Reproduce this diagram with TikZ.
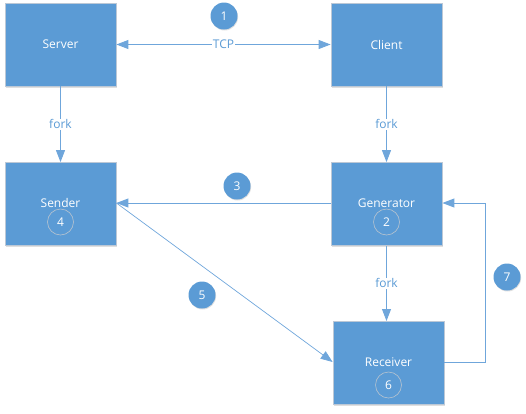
\documentclass[tikz,border=0pt]{standalone}
\usepackage{fontspec}
\setmainfont{Open Sans}
\usetikzlibrary{arrows.meta,shadows}
\definecolor{boxblue}{HTML}{5B9BD5}
\definecolor{boxedge}{HTML}{BCC8D6}
\definecolor{linkblue}{HTML}{6FA6DB}
\definecolor{ringgrey}{HTML}{B8C4D0}
\begin{document}
\begin{tikzpicture}[x=1pt,y=-1pt,
  proc/.style={draw=boxedge,line width=0.8pt,fill=boxblue,minimum width=111pt,minimum height=83pt,
    inner sep=0pt,drop shadow={shadow xshift=1pt,shadow yshift=-1.5pt,opacity=0.25}},
  proctext/.style={text=white,font=\fontsize{12}{14}\selectfont},
  ring/.style={draw=ringgrey,line width=0.6pt,circle,minimum size=26pt,inner sep=0pt,text=white,font=\fontsize{12}{14}\selectfont},
  badge/.style={circle,fill=boxblue,minimum size=27pt,inner sep=0pt,text=white,font=\fontsize{12}{14}\selectfont,
    drop shadow={shadow xshift=0.6pt,shadow yshift=-1pt,opacity=0.25}},
  tip/.style={Triangle[length=12pt,width=9pt]},
  link/.style={draw=linkblue,line width=0.9pt,-{Triangle[length=12pt,width=9pt]}},
  lbl/.style={fill=white,inner sep=1pt,text=boxblue,font=\fontsize{12}{14}\selectfont}]
\useasboundingbox (0,0) rectangle (526,413);

% process boxes
\node[proc] (server) at (60.5,44.5) {};
\node[proc] (client) at (386.5,44.5) {};
\node[proc] (sender) at (60.5,204) {};
\node[proc] (generator) at (386.5,204) {};
\node[proc] (receiver) at (388.5,363) {};

% box captions
\node[proctext] (serverT) at (60.5,44.5) {Server};
\node[proctext] (clientT) at (386.5,44.5) {Client};
\node[proctext] (senderT) at (60.5,203) {Sender};
\node[proctext] (generatorT) at (386.5,203) {Generator};
\node[proctext] (receiverT) at (388.5,362) {Receiver};

% step markers inside boxes
\node[ring] (r4) at (60.5,222) {4};
\node[ring] (r2) at (386.5,222) {2};
\node[ring] (r6) at (388.5,385) {6};

% connection points
\coordinate (sendR) at (sender.east |- senderT);
\coordinate (genR) at (generator.east |- generatorT);
\coordinate (genL) at (generator.west |- generatorT);
\coordinate (recvL) at (receiver.west |- receiverT);
\coordinate (recvR) at (receiver.east |- receiverT);
\coordinate (genB) at (generator.south);
\coordinate (recvT) at (386.5,321);
\coordinate (loopA) at (485,362);
\coordinate (loopB) at (485,203);

% connectors
\draw[link,{Triangle[length=12pt,width=9pt]}-{Triangle[length=12pt,width=9pt]}] (server.east) -- node[lbl] (tcp) {TCP} (client.west);
\draw[link] (server.south) -- node[lbl] (fork1) {fork} (sender.north);
\draw[link] (client.south) -- node[lbl] (fork2) {fork} (generator.north);
\draw[link] (genB) -- node[lbl] (fork3) {fork} (recvT);
\draw[link] (genL) -- (sendR);
\draw[link,line width=0.7pt] (sendR) -- (recvL);
\draw[link] (recvR) -- (loopA) -- (loopB) -- (genR);

% numbered step badges
\node[badge] (b1) at (224,16) {1};
\node[badge] (b3) at (237,186) {3};
\node[badge] (b5) at (202,295) {5};
\node[badge] (b7) at (507,277) {7};
\end{tikzpicture}
\end{document}
